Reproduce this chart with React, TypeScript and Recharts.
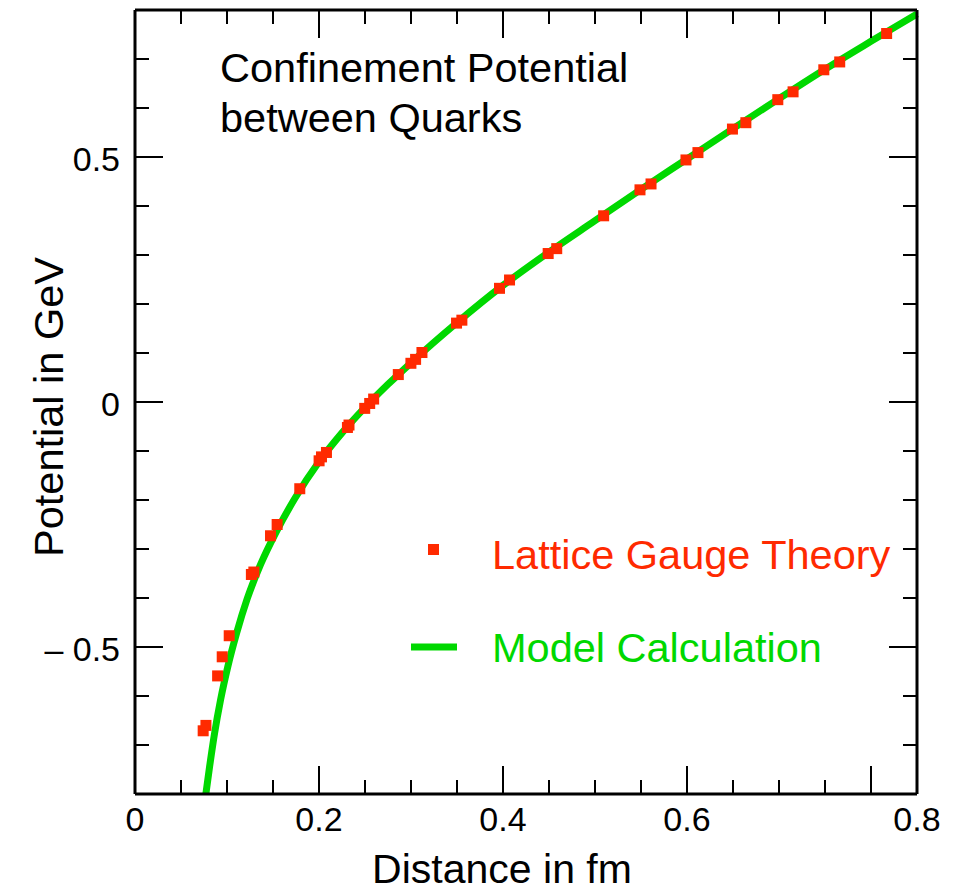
import React from 'react';
import { ComposedChart, Line, Scatter, XAxis, YAxis } from 'recharts';

// Lattice gauge theory points (distance fm, potential GeV)
const latticeX = [0.0741, 0.0771, 0.0898, 0.0948, 0.1024, 0.1265, 0.1292, 0.1473, 0.1545, 0.1791,
  0.2001, 0.2027, 0.2081, 0.2309, 0.2326, 0.2497, 0.2551, 0.2594, 0.2862, 0.2999,
  0.3050, 0.3119, 0.3495, 0.3553, 0.3962, 0.4071, 0.4491, 0.4584, 0.5094, 0.5489,
  0.5609, 0.5989, 0.6119, 0.6494, 0.6640, 0.6987, 0.7153, 0.7487, 0.7660, 0.8170];
const latticeY = [-0.671, -0.660, -0.559, -0.520, -0.477, -0.352, -0.347, -0.273, -0.250, -0.177,
  -0.120, -0.112, -0.103, -0.052, -0.047, -0.013, -0.003, 0.006, 0.056, 0.079,
  0.087, 0.101, 0.161, 0.167, 0.232, 0.249, 0.303, 0.313, 0.380, 0.433,
  0.445, 0.494, 0.509, 0.557, 0.570, 0.617, 0.633, 0.678, 0.694, 0.752];

// Model calculation curve
const modelX = [0.0771, 0.0811, 0.0865, 0.0930, 0.1009, 0.1104, 0.1219, 0.1364, 0.1538, 0.1737,
  0.2, 0.225, 0.25, 0.275, 0.3, 0.35, 0.4, 0.45, 0.5, 0.55, 0.6, 0.65, 0.7, 0.75, 0.8, 0.85];
const modelY = [-0.799, -0.744, -0.676, -0.608, -0.540, -0.472, -0.402, -0.332, -0.264, -0.197,
  -0.122, -0.063, -0.011, 0.036, 0.080, 0.162, 0.238, 0.306, 0.370, 0.434, 0.496, 0.558, 0.619, 0.679, 0.736, 0.792];

const xTickValues = [0, 0.05, 0.1, 0.15, 0.2, 0.25, 0.3, 0.35, 0.4, 0.45, 0.5, 0.55, 0.6, 0.65, 0.7, 0.75, 0.8, 0.85];
const xMajor = [0.2, 0.4, 0.6, 0.8];
const xLabelAt = [0, 0.2, 0.4, 0.6, 0.85];
const xLabelText = ['0', '0.2', '0.4', '0.6', '0.8'];

const yTickValues = [-0.8, -0.7, -0.6, -0.5, -0.4, -0.3, -0.2, -0.1, 0, 0.1, 0.2, 0.3, 0.4, 0.5, 0.6, 0.7, 0.8];
const yMajor = [-0.5, 0, 0.5];
const yLabelAt = [-0.5, 0, 0.5];
const yLabelText = ['\u2013 0.5', '0', '0.5'];

const latticeData = latticeX.map((x, i) => ({ x, y: latticeY[i] }));
const modelData = modelX.map((x, i) => ({ x, y: modelY[i] }));

const RED = '#ff2a00';
const GREEN = '#00d800';
const FONT = '"Liberation Sans", Arial, Helvetica, sans-serif';

const near = (a: number, b: number) => Math.abs(a - b) < 1e-6;
const inList = (v: number, list: number[]) => list.some((t) => near(t, v));
const isEdgeX = (v: number) => near(v, 0) || near(v, 0.85);
const isEdgeY = (v: number) => near(v, -0.8) || near(v, 0.8);

const MAJOR_LEN = 28;
const MINOR_LEN = 14;

const XTickBottom = (props: any) => {
  const { x, y, payload } = props;
  const v = payload.value as number;
  const idx = xLabelAt.findIndex((t) => near(t, v));
  return (
    <g>
      {!isEdgeX(v) && (
        <line x1={x} x2={x} y1={y} y2={y - (inList(v, xMajor) ? MAJOR_LEN : MINOR_LEN)} stroke="#000" strokeWidth={2} />
      )}
      {idx >= 0 && (
        <text x={x} y={y + 37} textAnchor="middle" fontFamily={FONT} fontSize={34} fill="#000">
          {xLabelText[idx]}
        </text>
      )}
    </g>
  );
};

const XTickTop = (props: any) => {
  const { x, y, payload } = props;
  const v = payload.value as number;
  if (isEdgeX(v)) return <g />;
  return <line x1={x} x2={x} y1={y} y2={y + (inList(v, xMajor) ? MAJOR_LEN : MINOR_LEN)} stroke="#000" strokeWidth={2} />;
};

const YTickLeft = (props: any) => {
  const { x, y, payload } = props;
  const v = payload.value as number;
  const idx = yLabelAt.findIndex((t) => near(t, v));
  return (
    <g>
      {!isEdgeY(v) && (
        <line x1={x} x2={x + (inList(v, yMajor) ? MAJOR_LEN : MINOR_LEN)} y1={y} y2={y} stroke="#000" strokeWidth={2} />
      )}
      {idx >= 0 && (
        <text x={x - 15} y={y + 14} textAnchor="end" fontFamily={FONT} fontSize={34} fill="#000">
          {yLabelText[idx]}
        </text>
      )}
    </g>
  );
};

const YTickRight = (props: any) => {
  const { x, y, payload } = props;
  const v = payload.value as number;
  if (isEdgeY(v)) return <g />;
  return <line x1={x} x2={x - (inList(v, yMajor) ? MAJOR_LEN : MINOR_LEN)} y1={y} y2={y} stroke="#000" strokeWidth={2} />;
};

const SquareDot = (props: any) => {
  const { cx, cy } = props;
  if (cx == null || cy == null) return <g />;
  return <rect x={cx - 5.5} y={cy - 5.5} width={11} height={11} fill={RED} />;
};

const axisLine = { stroke: '#000', strokeWidth: 3 };

export default function App() {
  return (
    <div style={{ position: 'absolute', left: 0, top: 0, width: 958, height: 892, background: '#fff' }}>
      <ComposedChart width={958} height={892} margin={{ top: 9, right: 40, bottom: 0, left: 0 }}>
        <XAxis
          xAxisId="bottom"
          orientation="bottom"
          type="number"
          dataKey="x"
          domain={[0, 0.85]}
          ticks={xTickValues}
          interval={0}
          height={98}
          axisLine={axisLine}
          tickLine={false}
          tickSize={0}
          tickMargin={0}
          tick={<XTickBottom />}
        />
        <XAxis
          xAxisId="top"
          orientation="top"
          type="number"
          dataKey="x"
          domain={[0, 0.85]}
          ticks={xTickValues}
          interval={0}
          height={1}
          axisLine={axisLine}
          tickLine={false}
          tickSize={0}
          tickMargin={0}
          tick={<XTickTop />}
        />
        <YAxis
          yAxisId="left"
          orientation="left"
          type="number"
          domain={[-0.8, 0.8]}
          ticks={yTickValues}
          interval={0}
          width={135}
          axisLine={axisLine}
          tickLine={false}
          tickSize={0}
          tickMargin={0}
          tick={<YTickLeft />}
        />
        <YAxis
          yAxisId="right"
          orientation="right"
          type="number"
          domain={[-0.8, 0.8]}
          ticks={yTickValues}
          interval={0}
          width={1}
          axisLine={axisLine}
          tickLine={false}
          tickSize={0}
          tickMargin={0}
          tick={<YTickRight />}
        />
        <Line
          xAxisId="bottom"
          yAxisId="left"
          data={modelData}
          dataKey="y"
          type="monotone"
          stroke={GREEN}
          strokeWidth={7}
          dot={false}
          activeDot={false}
          isAnimationActive={false}
        />
        <Scatter
          xAxisId="top"
          yAxisId="right"
          data={latticeData}
          dataKey="y"
          fill={RED}
          shape={<SquareDot />}
          isAnimationActive={false}
        />
      </ComposedChart>
      <svg width={958} height={892} style={{ position: 'absolute', left: 0, top: 0, pointerEvents: 'none' }}>
        <text x={220} y={82} fontFamily={FONT} fontSize={41.5} fill="#000">Confinement Potential</text>
        <text x={220} y={132} fontFamily={FONT} fontSize={41.5} fill="#000">between Quarks</text>
        <rect x={428} y={544} width={11} height={11} fill={RED} />
        <text x={492} y={569} fontFamily={FONT} fontSize={41.5} fill={RED}>Lattice Gauge Theory</text>
        <line x1={411} x2={457} y1={647} y2={647} stroke={GREEN} strokeWidth={7} />
        <text x={492} y={662} fontFamily={FONT} fontSize={41.5} fill={GREEN}>Model Calculation</text>
        <text x={502} y={883} textAnchor="middle" fontFamily={FONT} fontSize={41} fill="#000">Distance in fm</text>
        <text x={63} y={407} textAnchor="middle" transform="rotate(-90 63 407)" fontFamily={FONT} fontSize={41.5} fill="#000">Potential in GeV</text>
      </svg>
    </div>
  );
}
